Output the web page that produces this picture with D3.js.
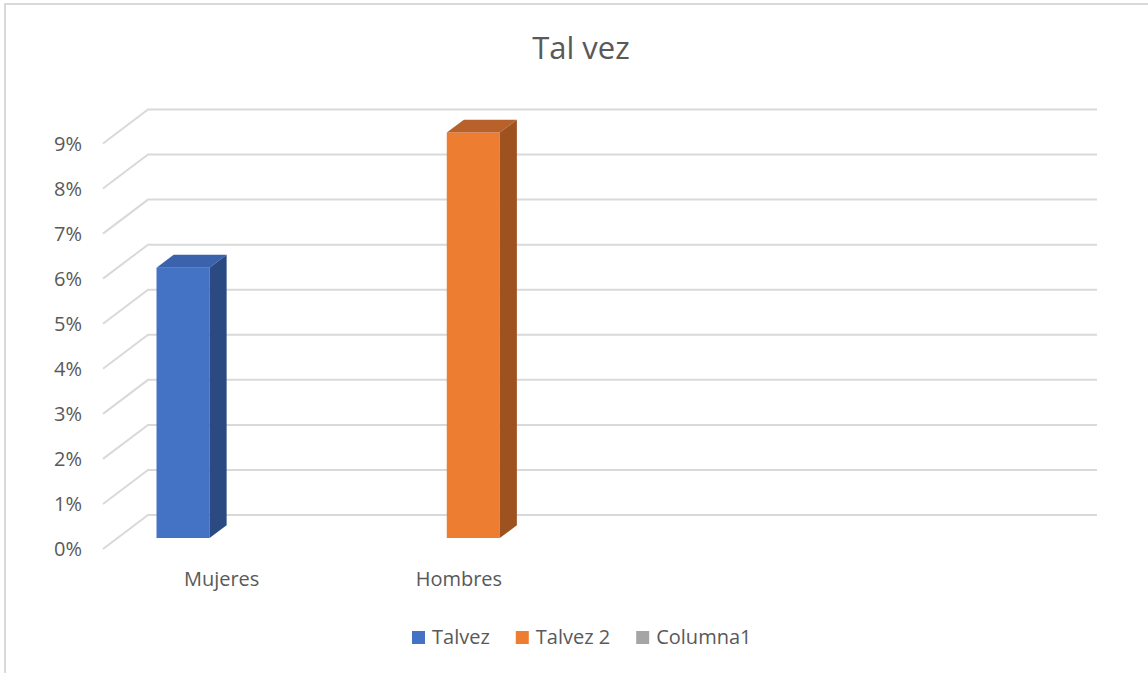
<!DOCTYPE html>
<html>
<head>
<meta charset="utf-8">
<script src="https://cdn.jsdelivr.net/npm/d3@7"></script>
<style>
  body { margin: 0; background: #fff; }
  text { font-family: "Open Sans", Lato, sans-serif; fill: #595959; }
</style>
</head>
<body>
<div id="chart"></div>
<script>
// 3D clustered column chart "Tal vez"

// ==========================================================
// Data
var categories = ["Mujeres", "Hombres", "", ""];
var seriesNames = ["Talvez", "Talvez 2", "Columna1"];
var talvez = [0.06, null, null, null];
var talvez2 = [null, 0.09, null, null];
var columna1 = [null, null, null, null];
var yTicks = [0, 0.01, 0.02, 0.03, 0.04, 0.05, 0.06, 0.07, 0.08, 0.09];

var seriesValues = [talvez, talvez2, columna1];
var colors = [
    { front: "#4472c4", top: "#3a62ad", side: "#2b4a82" },
    { front: "#ed7d31", top: "#b9612a", side: "#9d521f" },
    { front: "#a5a5a5", top: "#8f8f8f", side: "#6c6c6c" }
];

// ==========================================================
// Sizes
var svgWidth = 1148;
var svgHeight = 673;

// front-left corner of the floor (value 0, depth 0)
var originX = 103;
var originY = 549;
var plotWidth = 949;
var plotHeight = 405.5;

// oblique depth vector (full depth)
var depthDX = 45;
var depthDY = -34;
var barDepth0 = 0.32;
var barDepth1 = 0.70;

var svg = d3.select("#chart")
    .append("svg")
    .attr("width", svgWidth)
    .attr("height", svgHeight);

// chart area border
svg.append("rect")
    .attr("x", 5)
    .attr("y", 4)
    .attr("width", 1160)
    .attr("height", 700)
    .attr("fill", "none")
    .attr("stroke", "#d9d9d9")
    .attr("stroke-width", 2);

// title
svg.append("text")
    .attr("x", 581)
    .attr("y", 59)
    .attr("text-anchor", "middle")
    .style("font-size", "31px")
    .text("Tal vez");

// ==========================================================
// Scales
var x0 = d3.scaleBand()
    .domain(d3.range(categories.length))
    .range([0, plotWidth]);

var x1 = d3.scaleBand()
    .domain(d3.range(seriesNames.length))
    .range([0, x0.bandwidth()])
    .paddingOuter(0.738);

var yScale = d3.scaleLinear()
    .domain([0, 0.09])
    .range([0, plotHeight]);

// project (x along floor, value, depth) -> screen
function proj(x, v, d) {
    return [originX + x + d * depthDX, originY - yScale(v) + d * depthDY];
}

// ==========================================================
// Gridlines (side wall + back wall)
var grid = svg.append("g");
yTicks.forEach(function(t) {
    var a = proj(0, t, 0), b = proj(0, t, 1), c = proj(plotWidth, t, 1);
    grid.append("path")
        .attr("d", "M" + a + "L" + b + "L" + c)
        .attr("fill", "none")
        .attr("stroke", "#d9d9d9")
        .attr("stroke-width", 2);
});

// y labels
var fmt = d3.format(".0%");
svg.append("g").selectAll("text")
    .data(yTicks)
    .enter()
    .append("text")
    .attr("x", 82)
    .attr("y", d => proj(0, d, 0)[1])
    .attr("dy", "0.35em")
    .attr("text-anchor", "end")
    .style("font-size", "20px")
    .text(d => fmt(d));

// category labels
svg.append("g").selectAll("text")
    .data(categories)
    .enter()
    .append("text")
    .attr("x", (d, i) => originX + x0(i) + x0.bandwidth() / 2)
    .attr("y", 586)
    .attr("text-anchor", "middle")
    .style("font-size", "20px")
    .text(d => d);

// ==========================================================
// Bars
var bars = [];
seriesValues.forEach(function(vals, s) {
    vals.forEach(function(v, i) {
        if (v != null) bars.push({ s: s, i: i, v: v });
    });
});

var barGroup = svg.append("g");
bars.forEach(function(b) {
    var xl = x0(b.i) + x1(b.s);
    var xr = xl + x1.bandwidth();
    var c = colors[b.s];
    var poly = pts => pts.map(p => p.join(",")).join(" ");

    // front face
    barGroup.append("polygon")
        .attr("points", poly([proj(xl, 0, barDepth0), proj(xr, 0, barDepth0),
            proj(xr, b.v, barDepth0), proj(xl, b.v, barDepth0)]))
        .attr("fill", c.front);
    // top face
    barGroup.append("polygon")
        .attr("points", poly([proj(xl, b.v, barDepth0), proj(xr, b.v, barDepth0),
            proj(xr, b.v, barDepth1), proj(xl, b.v, barDepth1)]))
        .attr("fill", c.top);
    // right side face
    barGroup.append("polygon")
        .attr("points", poly([proj(xr, 0, barDepth0), proj(xr, 0, barDepth1),
            proj(xr, b.v, barDepth1), proj(xr, b.v, barDepth0)]))
        .attr("fill", c.side);
});

// ==========================================================
// Legend
var legend = svg.append("g");
var items = seriesNames.map(function(name, s) {
    var g = legend.append("g");
    g.append("rect")
        .attr("width", 13)
        .attr("height", 13)
        .attr("y", 631)
        .attr("fill", colors[s].front);
    var t = g.append("text")
        .attr("x", 20)
        .attr("y", 644)
        .style("font-size", "20px")
        .text(name);
    return { g: g, w: 20 + t.node().getComputedTextLength() };
});
var gap = 26;
var total = d3.sum(items, d => d.w) + gap * (items.length - 1);
var lx = 412;
items.forEach(function(it) {
    it.g.attr("transform", `translate(${lx}, 0)`);
    lx += it.w + gap;
});
</script>
</body>
</html>
